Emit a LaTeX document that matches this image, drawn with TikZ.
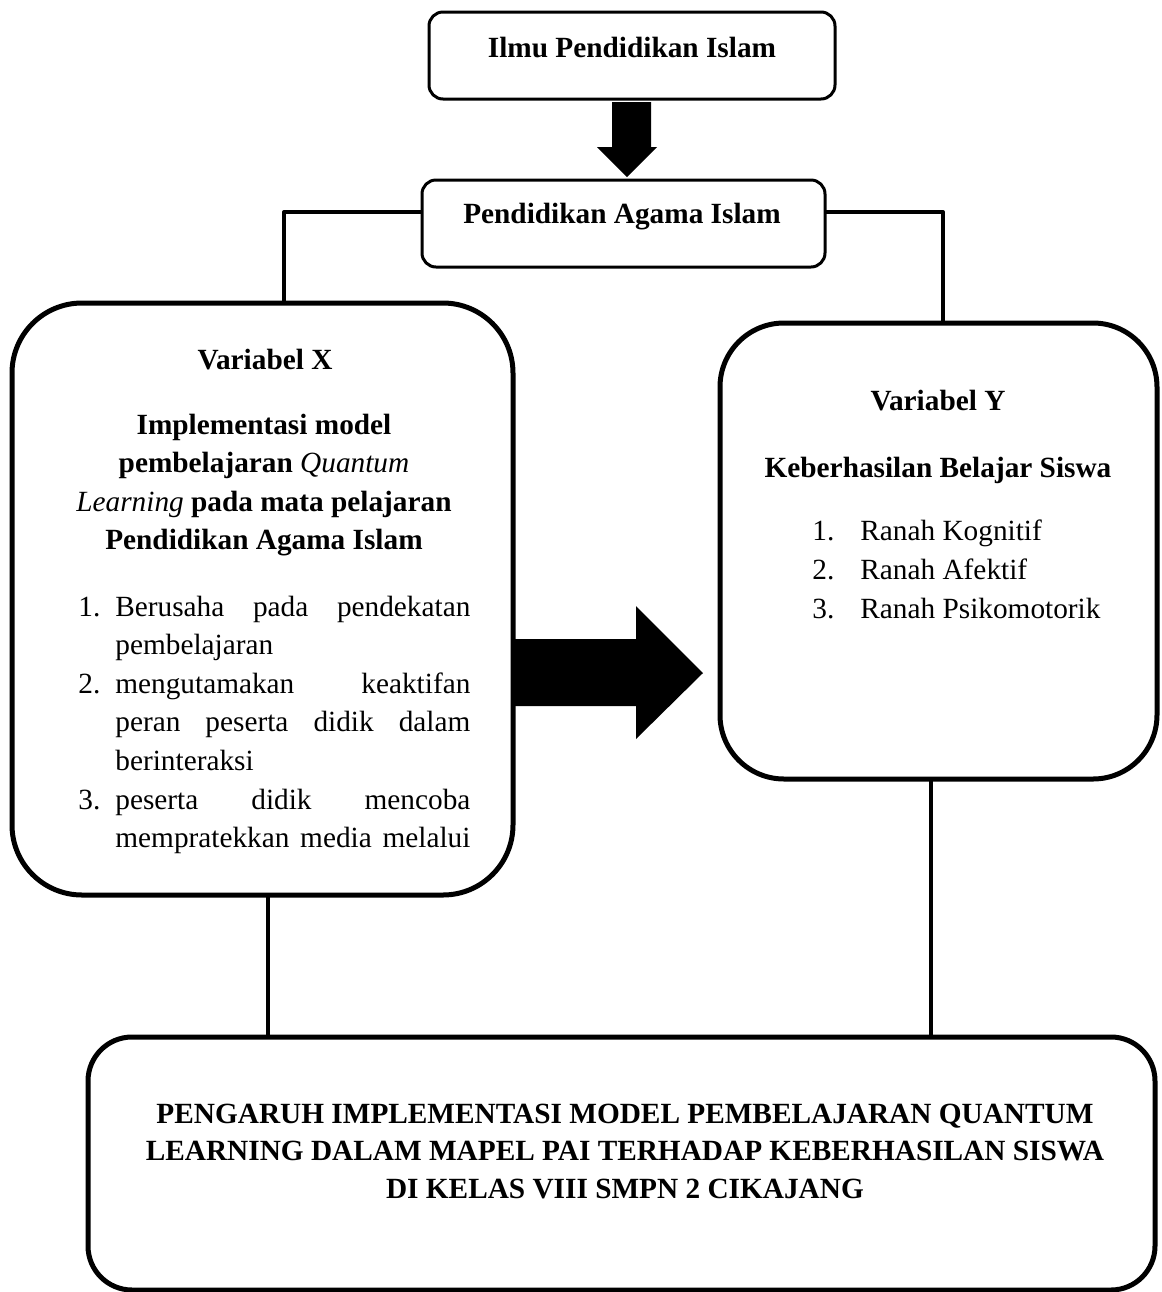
\documentclass[tikz,border=0pt]{standalone}
\usepackage{fontspec}
\setmainfont{Liberation Serif}
\newcommand{\jline}[3]{\noindent\makebox[#1][l]{#2}\makebox[177.5pt][s]{#3}\par}
\newcommand{\numline}[3]{\noindent\makebox[#1][l]{#2}#3\par}
\begin{document}
\begin{tikzpicture}[x=0.5pt,y=-0.5pt,line join=round,
  smallbox/.style={draw, rounded corners=7pt, line width=1.5pt, inner sep=0},
  bigbox/.style={draw, line width=2.5pt, inner sep=0},
  conn/.style={line width=2pt},
  txt/.style={inner sep=0, font=\fontsize{14.65}{19.3}\selectfont},
  boldtxt/.style={inner sep=0, font=\fontsize{14.65}{19.3}\selectfont\bfseries}]
\useasboundingbox (0,0) rectangle (1162,1292);

% boxes
\node[smallbox, minimum width=203pt, minimum height=43.5pt] (ipi) at (632,55.5) {};
\node[smallbox, minimum width=201.5pt, minimum height=43.5pt] (pai) at (623.5,223.5) {};
\node[bigbox, rounded corners=35pt, minimum width=250.5pt, minimum height=296pt] (X) at (262.5,599) {};
\node[bigbox, rounded corners=32pt, minimum width=218.5pt, minimum height=228pt] (Y) at (938.5,551) {};
\node[bigbox, rounded corners=22pt, minimum width=533.5pt, minimum height=126.5pt] (res) at (621.5,1163.5) {};

% texts
\node[boldtxt, anchor=base] (ipit) at (632,57) {Ilmu Pendidikan Islam};
\node[boldtxt, anchor=base] (pait) at (622,223) {Pendidikan Agama Islam};

\node[boldtxt, anchor=base] (xv) at (265,369) {Variabel X};
\node[boldtxt, anchor=base] (xh) at (264,434) {\parbox[t]{240pt}{\centering
  Implementasi model\\
  pembelajaran {\mdseries\itshape Quantum}\\
  {\mdseries\itshape Learning} pada mata pelajaran\\
  Pendidikan Agama Islam}};
\node[txt, anchor=base west] (xl) at (78,616) {\parbox[t]{196pt}{%
  \jline{18.5pt}{1.}{Berusaha pada pendekatan}
  \numline{18.5pt}{}{pembelajaran}
  \jline{18.5pt}{2.}{mengutamakan keaktifan}
  \jline{18.5pt}{}{peran peserta didik dalam}
  \numline{18.5pt}{}{berinteraksi}
  \jline{18.5pt}{3.}{peserta didik mencoba}
  \jline{18.5pt}{}{mempratekkan media melalui}}};

\node[boldtxt, anchor=base] (yv) at (938,410) {Variabel Y};
\node[boldtxt, anchor=base] (yh) at (938,477) {Keberhasilan Belajar Siswa};
\node[txt, anchor=base west] (yl) at (812,540) {\parbox[t]{160pt}{%
  \fontsize{14.65}{19.5}\selectfont
  \numline{24pt}{1.}{Ranah Kognitif}
  \numline{24pt}{2.}{Ranah Afektif}
  \numline{24pt}{3.}{Ranah Psikomotorik}}};

\node[boldtxt, anchor=base] (rt) at (625,1123) {\parbox[t]{520pt}{\centering
  \fontsize{14.65}{18.75}\selectfont
  PENGARUH IMPLEMENTASI MODEL PEMBELAJARAN QUANTUM\\
  LEARNING DALAM MAPEL PAI TERHADAP KEBERHASILAN SISWA\\
  DI KELAS VIII SMPN 2 CIKAJANG}};

% block arrows
\fill (612,102) -- (651,102) -- (651,147) -- (657,147) -- (627,177) -- (597,147) -- (612,147) -- cycle;
\fill (515,639) -- (636,639) -- (636,606) -- (703,673) -- (636,739) -- (636,706) -- (515,706) -- cycle;

% connectors
\coordinate (pl) at (422,212);
\coordinate (xt) at (284,303);
\draw[conn] (pl) -| (xt);
\coordinate (pr) at (825,212);
\coordinate (yt) at (943,323);
\draw[conn] (pr) -| (yt);
\coordinate (xb) at (268,895);
\coordinate (rl) at (268,1037);
\draw[conn] (xb) -- (rl);
\coordinate (yb) at (931,779);
\coordinate (rr) at (931,1037);
\draw[conn] (yb) -- (rr);
\end{tikzpicture}
\end{document}
